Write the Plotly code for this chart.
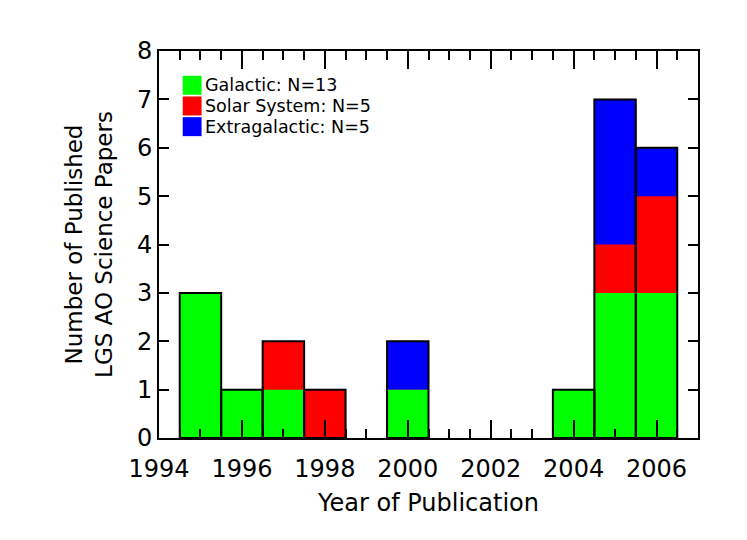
import numpy as np
import plotly.graph_objects as go

years = [1995, 1996, 1997, 1998, 1999, 2000, 2001, 2002, 2003, 2004, 2005, 2006]
galactic = [3, 1, 1, 0, 0, 1, 0, 0, 0, 1, 3, 3]
solar = [0, 0, 1, 1, 0, 0, 0, 0, 0, 0, 1, 2]
extragalactic = [0, 0, 0, 0, 0, 1, 0, 0, 0, 0, 3, 1]

series_names = ["Galactic", "Solar System", "Extragalactic"]
series_colors = ["#00FF00", "#FF0000", "#0000FF"]
series_vals = [galactic, solar, extragalactic]

FONT = "DejaVu Sans"

cum = np.cumsum(np.array(series_vals), axis=0)
fig = go.Figure()
# draw from top of stack downwards so lower segments overlay
for i in reversed(range(len(series_vals))):
    fig.add_trace(go.Bar(
        x=years, y=cum[i].tolist(), width=1.0,
        marker=dict(color=series_colors[i], line=dict(width=0)),
        name=series_names[i], showlegend=False,
    ))
total = [v if v > 0 else None for v in cum[-1].tolist()]
fig.add_trace(go.Bar(
    x=years, y=total, width=1.0,
    marker=dict(color="rgba(0,0,0,0)", line=dict(color="black", width=2)),
    showlegend=False,
))

# legend drawn as boxes + text in paper coordinates
shapes = []
annotations = []
for i, (nm, col, vals) in enumerate(zip(series_names, series_colors, series_vals)):
    y_top = 0.936 - i * 0.0535
    shapes.append(dict(type="rect", xref="paper", yref="paper",
                       x0=0.044, x1=0.079, y0=y_top - 0.049, y1=y_top,
                       fillcolor=col, line=dict(width=0)))
    annotations.append(dict(xref="paper", yref="paper", x=0.082, y=y_top - 0.0245,
                            text=f"{nm}: N={int(sum(vals))}", showarrow=False,
                            xanchor="left", yanchor="middle",
                            font=dict(family=FONT, size=17.5, color="black")))

fig.update_layout(
    barmode="overlay",
    width=747, height=540,
    margin=dict(l=151, r=57, t=43, b=110),
    paper_bgcolor="white", plot_bgcolor="white",
    shapes=shapes, annotations=annotations,
    font=dict(family=FONT, color="black"),
)
fig.update_xaxes(
    range=[1994, 2007], tick0=1994, dtick=2,
    ticks="inside", ticklen=18, tickwidth=1.5, tickcolor="black",
    minor=dict(dtick=0.5, tick0=1994, ticks="inside", ticklen=9, tickwidth=1.5, tickcolor="black"),
    showline=True, linecolor="black", linewidth=2, mirror="ticks",
    showgrid=False, zeroline=False,
    tickfont=dict(family=FONT, size=24),
    ticklabelstandoff=8,
    title=dict(text="Year of Publication", font=dict(family=FONT, size=24), standoff=12),
)
fig.update_yaxes(
    range=[0, 8], tick0=0, dtick=1,
    ticks="inside", ticklen=10, tickwidth=1.5, tickcolor="black",
    showline=True, linecolor="black", linewidth=2, mirror="ticks",
    showgrid=False, zeroline=False,
    tickfont=dict(family=FONT, size=24),
    title=dict(text="Number of Published<br>LGS AO Science Papers",
               font=dict(family=FONT, size=23), standoff=18),
)

fig.write_html("out.html")
